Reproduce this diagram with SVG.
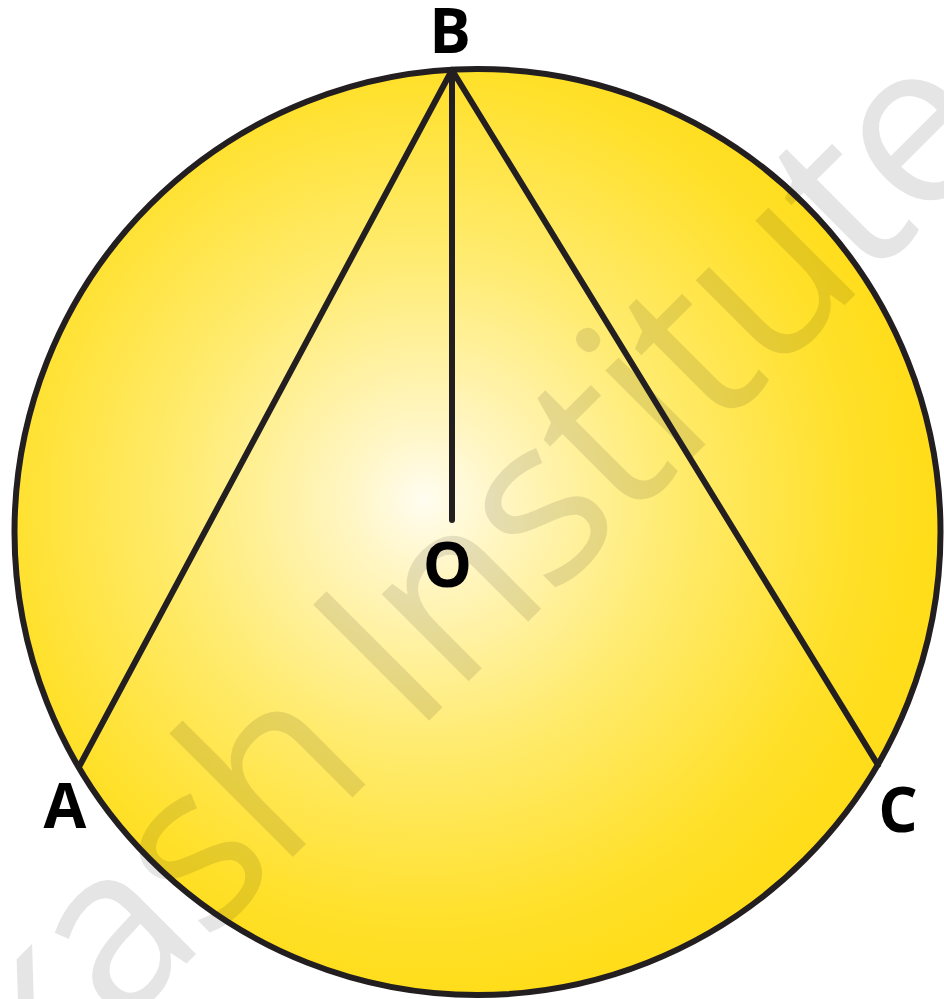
<svg xmlns="http://www.w3.org/2000/svg" width="944" height="999" viewBox="0 0 944 999">
  <defs>
    <radialGradient id="fillGrad" gradientUnits="userSpaceOnUse" cx="425" cy="500" r="500">
      <stop offset="0" stop-color="#fffdf0"/>
      <stop offset="0.15" stop-color="#fff6c4"/>
      <stop offset="0.5" stop-color="#ffeb6e"/>
      <stop offset="0.85" stop-color="#ffe02a"/>
      <stop offset="1" stop-color="#ffdd1a"/>
    </radialGradient>
  </defs>
  <style>
    .edge { stroke: #231f20; stroke-width: 6; fill: none; stroke-linecap: round; }
    .label { font-family: "Open Sans", "Liberation Sans", sans-serif; font-weight: 700; font-size: 62px; fill: #000; text-anchor: middle; }
    .wm { font-family: "Open Sans", "Liberation Sans", sans-serif; font-size: 230px; letter-spacing: -5.5px; fill: #000; fill-opacity: 0.1; }
  </style>
  <rect width="944" height="999" fill="#ffffff"/>
  <g id="circle">
    <circle cx="477.5" cy="532" r="463" fill="url(#fillGrad)"/>
  </g>
  <text class="wm" transform="translate(-148,1298) rotate(-45)">Aakash Institute</text>
  <g id="circle-outline">
    <circle cx="477.5" cy="532" r="463" fill="none" stroke="#231f20" stroke-width="6"/>
  </g>
  <g id="connectors">
    <line class="edge" x1="452" y1="70" x2="80" y2="765"/>
    <line class="edge" x1="452" y1="70" x2="878" y2="765"/>
    <line class="edge" x1="452" y1="70" x2="452" y2="520"/>
  </g>
  <g id="B"><text class="label" x="450" y="53">B</text></g>
  <g id="O"><text class="label" x="447.5" y="587">O</text></g>
  <g id="A"><text class="label" x="65" y="828">A</text></g>
  <g id="C"><text class="label" x="898" y="832">C</text></g>
</svg>
